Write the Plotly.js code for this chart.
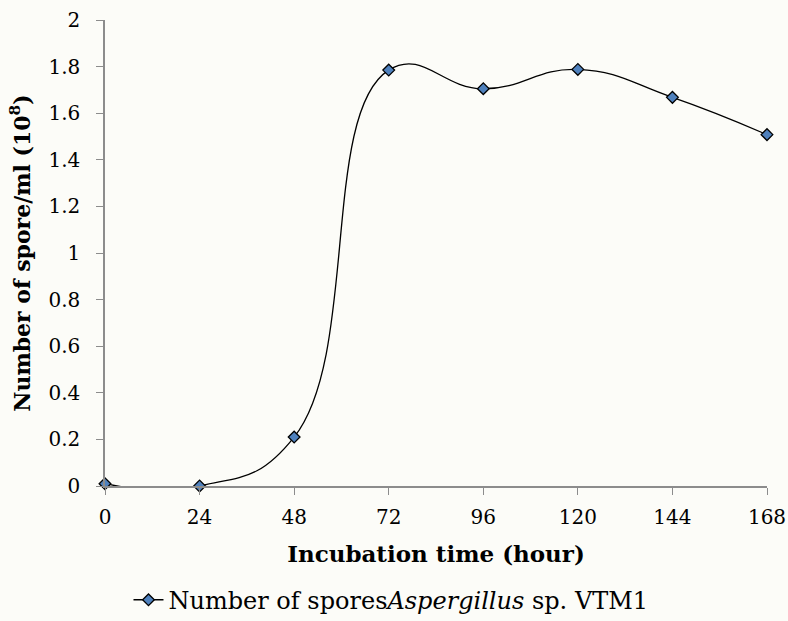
<!DOCTYPE html>
<html><head><meta charset="utf-8">
<script src="https://cdn.plot.ly/plotly-3.0.1.min.js"></script>
<style>body{margin:0;background:#fcfcf8}</style>
</head><body>
<div id="chart" style="width:788px;height:621px"></div>
<script>
const hours = [0, 24, 48, 72, 96, 120, 144, 168];
const spores = [0.01, 0.0, 0.21, 1.785, 1.705, 1.788, 1.668, 1.508];
const xTicks = [0, 24, 48, 72, 96, 120, 144, 168];
const yTicks = [0, 0.2, 0.4, 0.6, 0.8, 1, 1.2, 1.4, 1.6, 1.8, 2];

const FAM = 'DejaVu Serif';
const trace = {
  x: hours, y: spores, type: 'scatter', mode: 'lines+markers',
  name: 'Number of spores<i>Aspergillus</i> sp. VTM1',
  cliponaxis: false,
  line: {color: '#000', width: 1.3, shape: 'spline', smoothing: 1.3},
  marker: {symbol: 'diamond', size: 9, color: '#4f81bd', line: {color: '#000', width: 1.3}}
};
const layout = {
  width: 788, height: 621,
  paper_bgcolor: '#fcfcf8', plot_bgcolor: '#fcfcf8',
  margin: {l: 105, r: 21, t: 20, b: 135, autoexpand: false},
  font: {family: FAM, color: '#000', size: 20},
  showlegend: true,
  legend: {orientation: 'h', x: 0.432, xanchor: 'center', y: -0.245, yanchor: 'middle',
           itemwidth: 30, font: {family: FAM, size: 24, color: '#000'}},
  xaxis: {
    range: [0, 168], tickvals: xTicks, ticktext: xTicks.map(String),
    showgrid: false, zeroline: false, showline: true, linecolor: '#8c8c8c', linewidth: 1.5,
    ticks: 'outside', ticklen: 7, tickcolor: '#8c8c8c', ticklabelstandoff: 5,
    tickfont: {family: FAM, size: 20},
    title: {text: '<b>Incubation time (hour)</b>', font: {family: FAM, size: 23}, standoff: 18}
  },
  yaxis: {
    range: [0, 2], tickvals: yTicks, ticktext: yTicks.map(v => String(v)),
    showgrid: false, zeroline: false, showline: true, linecolor: '#8c8c8c', linewidth: 1.5,
    ticks: 'outside', ticklen: 7, tickcolor: '#8c8c8c', ticklabelstandoff: 12,
    tickfont: {family: FAM, size: 20},
    title: {text: '<b>Number of spore/ml (10<sup>8</sup>)</b>', font: {family: FAM, size: 22}, standoff: 12}
  }
};
Plotly.newPlot('chart', [trace], layout, {displayModeBar: false});
</script>
</body></html>
